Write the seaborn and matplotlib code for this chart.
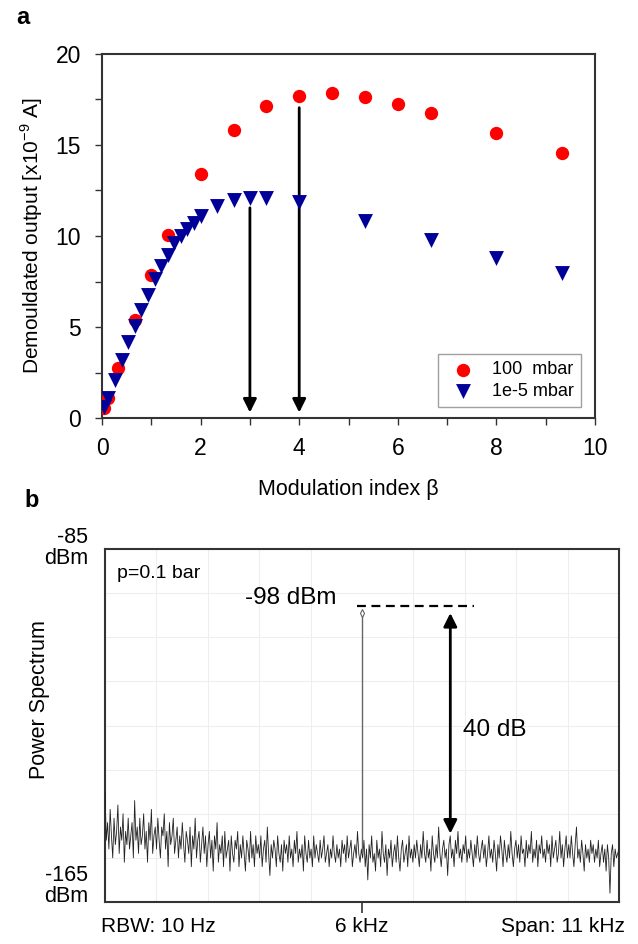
import matplotlib
matplotlib.use("Agg")
import matplotlib.pyplot as plt
import numpy as np
import pandas as pd
import seaborn as sns

# ---- panel a: demodulated output vs modulation index ----
beta_100mbar = [0.05, 0.13, 0.33, 0.67, 1.0, 1.33, 2.0, 2.67, 3.33, 4.0, 4.67,
                5.33, 6.0, 6.67, 8.0, 9.33]
out_100mbar = [0.55, 1.1, 2.75, 5.4, 7.85, 10.05, 13.4, 15.85, 17.15, 17.7, 17.85,
               17.65, 17.28, 16.78, 15.65, 14.55]

beta_1e5mbar = [0.05, 0.13, 0.27, 0.4, 0.53, 0.67, 0.8, 0.93, 1.07, 1.2, 1.33,
                1.47, 1.6, 1.73, 1.87, 2.0, 2.33, 2.67, 3.0, 3.33, 4.0, 5.33,
                6.67, 8.0, 9.33]
out_1e5mbar = [0.62, 1.1, 2.1, 3.16, 4.15, 5.07, 5.95, 6.78, 7.64, 8.34, 8.98,
               9.59, 10.0, 10.36, 10.72, 11.1, 11.65, 11.98, 12.1, 12.1, 11.87,
               10.85, 9.8, 8.8, 7.97]

series_labels = ["100  mbar", "1e-5 mbar"]
arrow_beta = [3, 4]
arrow_top = [11.55, 17.05]

# ---- panel b: power spectrum (dBm) ----
noise_dbm = [
    -140, -151, -147, -153, -144, -150, -155, -146, -152, -149, -143, -154, -148, -151, -145, -156, -149, -152, -146, -153,
    -150, -147, -155, -142, -151, -148, -154, -146, -152, -150, -145, -153, -149, -156, -147, -151, -144, -154, -150, -148,
    -153, -146, -151, -155, -148, -150, -145, -153, -149, -157, -147, -152, -150, -146, -154, -151, -148, -155, -150, -153,
    -147, -152, -156, -149, -151, -154, -148, -157, -150, -153, -146, -155, -151, -149, -156, -152, -148, -154, -150, -157,
    -152, -149, -155, -151, -158, -150, -153, -147, -156, -152, -154, -150, -157, -149, -155, -153, -151, -158, -150, -154,
    -156, -151, -153, -149, -157, -152, -155, -150, -154, -158, -151, -153, -156, -149, -155, -152, -157, -150, -154, -152,
    -155, -150, -157, -153, -151, -156, -148, -154, -159, -152, -155, -151, -153, -157, -150, -154, -156, -152, -158, -151,
    -154, -152, -156, -150, -155, -153, -157, -151, -154, -149, -156, -153, -155, -152, -158, -150, -154, -156, -151, -155,
    -153, -157, -150, -155, -152, -154, -156, -151, -155, -153, -150, -156, -154, -152, -157, -153, -155, -150, -154, -156,
    -152, -155, -153, -157, -151, -154, -152, -156, -150, -155, -153, -151, -157, -154, -152, -155, -149, -154, -156, -153,
    -155, -151, -157, -153, -160, -152, -155, -150, -156, -154, -158, -151, -155, -153, -157, -149, -154, -156, -152, -159,
    -153, -155, -151, -157, -154, -152, -156, -150, -155, -158, -153, -151, -156, -154, -152, -157, -150, -155, -153, -156,
    -152, -155, -151, -154, -157, -152, -155, -149, -154, -156, -151, -155, -153, -158, -150, -154, -156, -152, -155, -148,
    -154, -157, -153, -151, -155, -153, -159, -152, -150, -155, -153, -157, -151, -154, -149, -155, -153, -156, -152, -154,
    -150, -156, -153, -155, -151, -154, -157, -152, -155, -150, -154, -156, -153, -151, -155, -152, -157, -154, -150, -155,
    -153, -156, -151, -154, -158, -152, -155, -150, -153, -157, -151, -154, -156, -152, -155, -149, -154, -157, -153, -151,
    -155, -152, -156, -150, -154, -153, -157, -151, -155, -152, -154, -149, -156, -153, -155, -151, -157, -152, -154, -150,
    -155, -153, -156, -151, -154, -152, -157, -150, -155, -153, -151, -156, -154, -149, -155, -152, -157, -153, -150, -155,
    -152, -155, -150, -154, -157, -152, -148, -155, -153, -156, -151, -154, -158, -152, -155, -153, -156, -151, -154, -152,
    -156, -153, -155, -151, -157, -154, -152, -156, -153, -158, -152, -155, -163, -154, -152, -157, -153, -155, -154, -153,
]
freq_start, freq_stop = 0.5, 11.5   # kHz, centre 6 kHz, span 11 kHz
peak_freq = 6.0
peak_dbm = -98
peak_top = -99.5
noise_at_peak = -154
gap_bottom = -149.5

df_red = pd.DataFrame({"beta": beta_100mbar, "out": out_100mbar,
                       "series": series_labels[0]})
df_blue = pd.DataFrame({"beta": beta_1e5mbar, "out": out_1e5mbar,
                        "series": series_labels[1]})
df_b = pd.DataFrame({
    "freq": np.linspace(freq_start, freq_stop, len(noise_dbm)),
    "dbm": noise_dbm,
})

sns.set_style("ticks")
plt.rcParams["font.family"] = ["Liberation Sans", "DejaVu Sans"]
plt.rcParams["mathtext.fontset"] = "custom"
plt.rcParams["mathtext.rm"] = "Liberation Sans"
plt.rcParams["text.color"] = "black"
plt.rcParams["axes.labelcolor"] = "black"
plt.rcParams["xtick.labelcolor"] = "black"
plt.rcParams["ytick.labelcolor"] = "black"

fig = plt.figure(figsize=(6.38, 9.44), dpi=100)
ax1 = fig.add_axes([0.1599, 0.5572, 0.7727, 0.3856])
ax2 = fig.add_axes([0.1646, 0.0445, 0.8056, 0.3739])

# ---- panel a ----
sns.scatterplot(data=df_red, x="beta", y="out", color="#ff0000", marker="o",
                s=92, linewidth=0, label=series_labels[0], ax=ax1, zorder=3)
sns.scatterplot(data=df_blue, x="beta", y="out", color="#000099", marker="v",
                s=115, linewidth=0, label=series_labels[1], ax=ax1, zorder=3)

for xb, yt in zip(arrow_beta, arrow_top):
    ax1.annotate("", xy=(xb, 0.3), xytext=(xb, yt),
                 arrowprops=dict(arrowstyle="-|>", color="black", lw=2,
                                 mutation_scale=20, shrinkA=0, shrinkB=0),
                 zorder=2)

ax1.set_xlim(0, 10)
ax1.set_ylim(0, 20)
ax1.set_xticks(np.arange(0, 11, 2))
ax1.set_xticks(np.arange(0, 11, 1), minor=True)
ax1.set_yticks(np.arange(0, 21, 5))
ax1.set_yticks(np.arange(0, 21, 2.5), minor=True)
ax1.tick_params(which="both", direction="out", length=5, width=1, colors="#333333",
                labelsize=16.5, labelcolor="black")
ax1.tick_params(axis="x", pad=9)
ax1.tick_params(axis="y", pad=10)
ax1.set_xlabel("Modulation index β", fontsize=15.5, labelpad=13)
ax1.set_ylabel("Demouldated output [x10$^{-9}$ A]", fontsize=15, labelpad=8)
for sp in ax1.spines.values():
    sp.set_visible(True)
    sp.set_color("#333333")
    sp.set_linewidth(1.5)

leg = ax1.legend(loc="lower right", bbox_to_anchor=(0.972, 0.03), fontsize=13,
                 frameon=True, fancybox=False, edgecolor="#888888",
                 handletextpad=0.6, borderpad=0.4, labelspacing=0.25,
                 borderaxespad=0.0)
leg.get_frame().set_linewidth(1)

# ---- panel b ----
sns.lineplot(data=df_b, x="freq", y="dbm", color="#222222", lw=0.6, ax=ax2, zorder=3)
ax2.plot([peak_freq, peak_freq], [noise_at_peak, peak_top], color="#666666", lw=1, zorder=4)
ax2.plot([peak_freq], [peak_top], marker="d", ms=4, mfc="white", mec="#666666",
         mew=0.8, zorder=5)
ax2.plot([5.9, 8.4], [peak_dbm, peak_dbm], color="black", lw=1.6,
         ls=(0, (4, 2.5)), zorder=4)
ax2.annotate("", xy=(7.89, gap_bottom), xytext=(7.89, peak_top),
             arrowprops=dict(arrowstyle="<|-|>", color="black", lw=2,
                             mutation_scale=20, shrinkA=0, shrinkB=0))
ax2.text(8.16, -126, "40 dB", fontsize=17.5, va="center", ha="left")
ax2.text(5.46, -96, "-98 dBm", fontsize=17.5, va="center", ha="right")
ax2.text(0.024, 0.955, "p=0.1 bar", transform=ax2.transAxes, fontsize=14,
         va="top", ha="left")

ax2.set_xlim(freq_start, freq_stop)
ax2.set_ylim(-165, -85)
ax2.set_xticks(np.linspace(freq_start, freq_stop, 11), minor=True)
ax2.set_yticks(np.arange(-165, -84, 10), minor=True)
ax2.grid(which="minor", color="#eeeeee", lw=0.8, zorder=0)
ax2.set_xticks([peak_freq])
ax2.set_xticklabels([""])
ax2.set_yticks([])
ax2.tick_params(axis="x", which="major", direction="out", length=8, width=1.2, colors="#333333")
ax2.tick_params(which="minor", length=0)
ax2.set_xlabel("")
ax2.set_ylabel("")
for sp in ax2.spines.values():
    sp.set_visible(True)
    sp.set_color("#333333")
    sp.set_linewidth(1.5)

fig.text(88 / 638, 1 - 548 / 944, "-85\ndBm", fontsize=15.5, ha="right", va="center",
         linespacing=0.95)
fig.text(88 / 638, 1 - 886 / 944, "-165\ndBm", fontsize=15.5, ha="right", va="center",
         linespacing=0.95)
fig.text(40 / 638, 1 - 700 / 944, "Power Spectrum", fontsize=15.5, rotation=90,
         ha="center", va="center")
fig.text(101 / 638, 1 - 927 / 944, "RBW: 10 Hz", fontsize=15, ha="left", va="center")
fig.text(362 / 638, 1 - 927 / 944, "6 kHz", fontsize=15, ha="center", va="center")
fig.text(625 / 638, 1 - 927 / 944, "Span: 11 kHz", fontsize=15, ha="right", va="center")

fig.text(23 / 638, 1 - 18 / 944, "a", fontsize=17, fontweight="bold", ha="center", va="center")
fig.text(32 / 638, 1 - 500 / 944, "b", fontsize=17, fontweight="bold", ha="center", va="center")

fig.savefig("out.png", dpi=100)
